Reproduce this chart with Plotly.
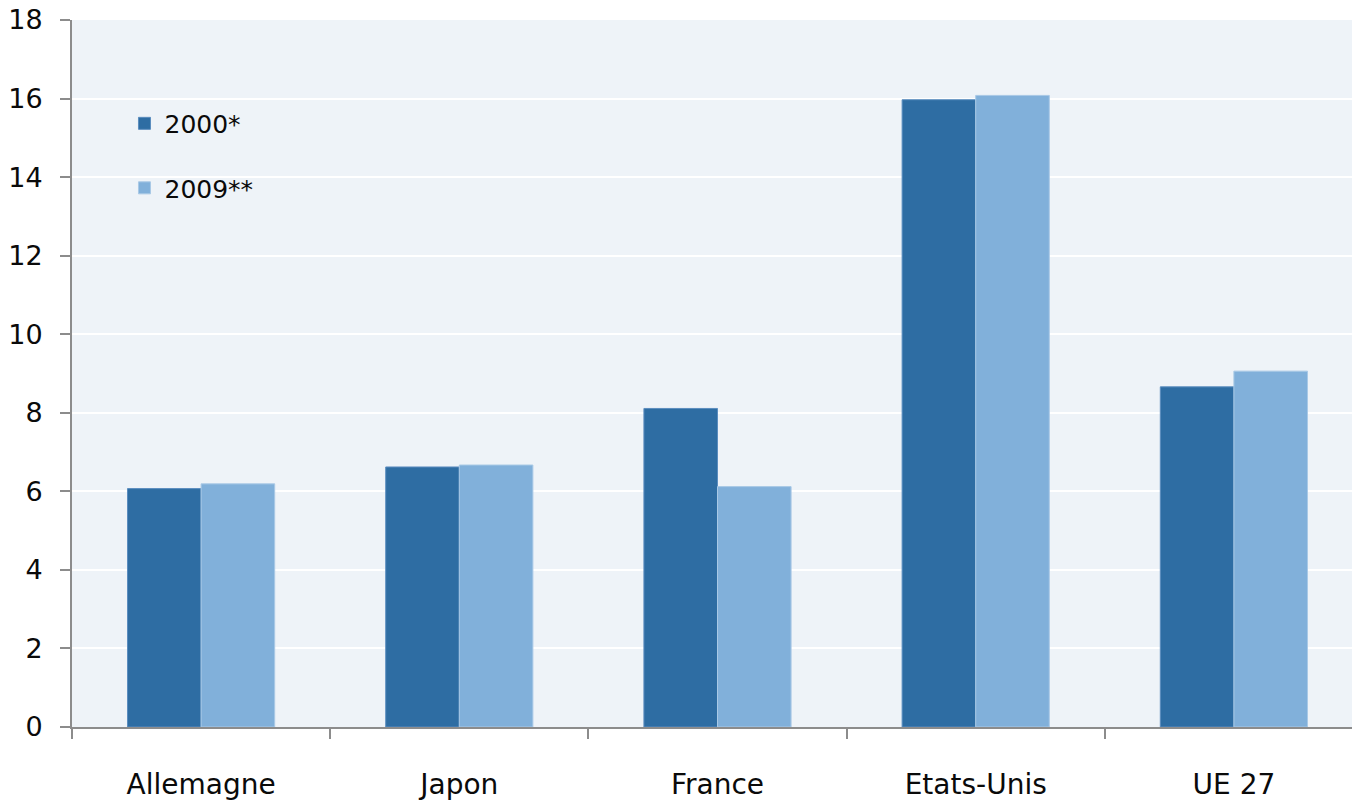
import plotly.graph_objects as go

# Categories and series values
pays = ["Allemagne", "Japon", "France", "Etats-Unis", "UE 27"]
valeurs_2000 = [6.07, 6.62, 8.11, 15.97, 8.66]
valeurs_2009 = [6.19, 6.67, 6.12, 16.08, 9.06]
y_ticks = [0, 2, 4, 6, 8, 10, 12, 14, 16, 18]

FONT = "'DejaVu Sans', 'Open Sans', sans-serif"

fig = go.Figure()
fig.add_trace(go.Bar(
    x=pays, y=valeurs_2000, name="2000*", legendgroup="a",
    marker=dict(color="#2E6DA3", line=dict(color="#5B8DBF", width=1)),
))
fig.add_trace(go.Bar(
    x=pays, y=valeurs_2009, name="2009**", legendgroup="b",
    marker=dict(color="#81B0DA", line=dict(color="#A9C9E6", width=1)),
))

fig.update_layout(
    width=1352, height=800,
    margin=dict(l=72, r=0, t=20, b=73),
    paper_bgcolor="white",
    plot_bgcolor="#EEF3F8",
    barmode="group",
    bargap=0.43,
    bargroupgap=0,
    font=dict(family=FONT, size=27, color="#0A0A0A"),
    legend=dict(
        x=0.041, y=0.886, xanchor="left", yanchor="top",
        bgcolor="rgba(0,0,0,0)",
        font=dict(size=25),
        tracegroupgap=29,
        traceorder="grouped",
        itemwidth=30,
    ),
    xaxis=dict(
        type="category",
        range=[-0.5, -0.5 + 1280 / 258.2],
        showline=True, linecolor="#8C8C8C", linewidth=2,
        ticks="outside", tickson="boundaries", ticklen=10,
        tickcolor="#8C8C8C", tickwidth=2,
        showgrid=False,
        ticklabelstandoff=31,
        tickfont=dict(size=28),
    ),
    yaxis=dict(
        range=[0, 18],
        tickvals=y_ticks,
        showline=True, linecolor="#8C8C8C", linewidth=2,
        ticks="outside", ticklen=10, tickcolor="#8C8C8C", tickwidth=2,
        showgrid=True, gridcolor="white", gridwidth=2,
        zeroline=False,
        ticklabelstandoff=12,
        tickfont=dict(size=27),
    ),
)

fig.write_html("out.html")
